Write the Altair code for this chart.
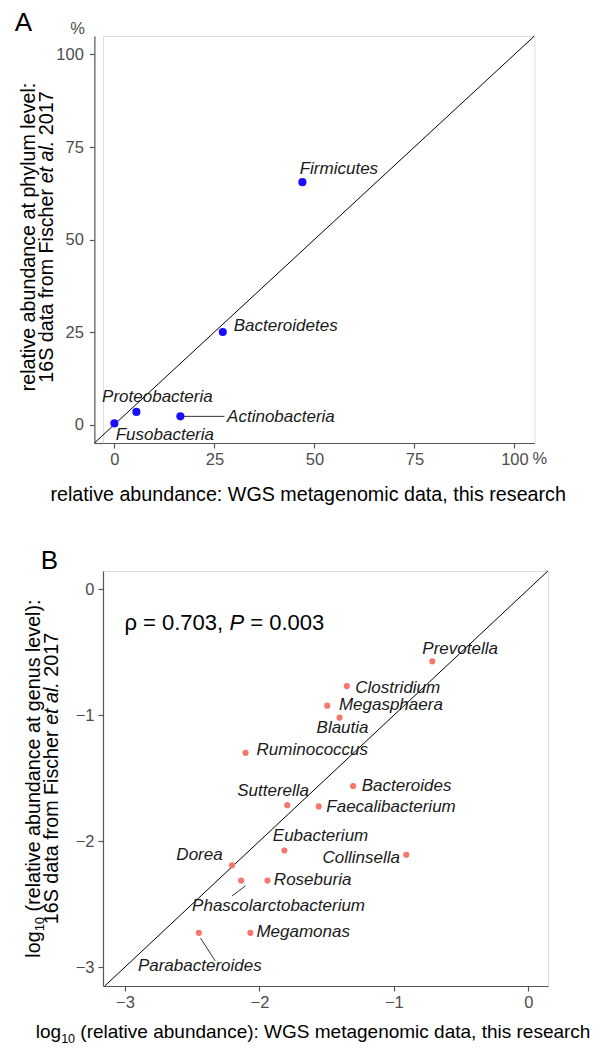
import altair as alt
import pandas as pd

FONT = "Liberation Sans"

# ---------------- data ----------------
# Panel A: phylum level, percent
phyla = ["Firmicutes", "Bacteroidetes", "Proteobacteria", "Actinobacteria", "Fusobacteria"]
wgs_pct = [47.0, 27.1, 5.5, 16.5, 0.0]
s16_pct = [65.5, 25.0, 3.4, 2.2, 0.3]

# Panel B: genus level, log10
genera = ["Prevotella", "Clostridium", "Megasphaera", "Blautia", "Ruminococcus",
          "Bacteroides", "Sutterella", "Faecalibacterium", "Eubacterium", "Collinsella",
          "Dorea", "Phascolarctobacterium", "Roseburia", "Megamonas", "Parabacteroides"]
wgs_log = [-0.714, -1.350, -1.496, -1.404, -2.103,
           -1.303, -1.793, -1.559, -1.814, -0.908,
           -2.204, -2.136, -1.940, -2.067, -2.450]
s16_log = [-0.572, -0.769, -0.924, -1.019, -1.299,
           -1.562, -1.714, -1.724, -2.074, -2.108,
           -2.192, -2.313, -2.313, -2.728, -2.728]

ticks_a = [0, 25, 50, 75, 100]
ticks_b = [-3, -2, -1, 0]

# ---------------- layout / style (pixels) ----------------
AX_SHIFT = 8.6           # panel A's y axis sits this far left of the shared origin
WA, HA = 431.4, 407
XDOM_A, YDOM_A = [-2.85, 105], [-5, 105]
WB, HB = 445, 415
XDOM_B, YDOM_B = [-3.163, 0.146], [-3.15, 0.145]

# label offsets relative to the point: (dx, dy, align)
LAB_A = {
    "Firmicutes": (-2.7, -8.3, "left"),
    "Bacteroidetes": (10.9, -0.7, "left"),
    "Proteobacteria": (-34.3, -10, "left"),
    "Actinobacteria": (46.7, 5.7, "left"),
    "Fusobacteria": (1.3, 17, "left"),
}
LAB_B = {
    "Prevotella": (-10, -7.6, "left"),
    "Clostridium": (8.4, 6.8, "left"),
    "Megasphaera": (11.7, 4.6, "left"),
    "Blautia": (-23, 15.6, "left"),
    "Ruminococcus": (11, 1.7, "left"),
    "Bacteroides": (8.6, 5, "left"),
    "Sutterella": (-50, -9.3, "left"),
    "Faecalibacterium": (7.6, 5.4, "left"),
    "Eubacterium": (-11.6, -9, "left"),
    "Collinsella": (-6.3, 8.3, "right"),
    "Dorea": (-9.3, -5, "right"),
    "Phascolarctobacterium": (-49, 30.7, "left"),
    "Roseburia": (6.4, 4, "left"),
    "Megamonas": (6, 4.6, "left"),
    "Parabacteroides": (-61, 38, "left"),
}
# connector segments in pixel offsets from the point: (x1, y1, x2, y2)
CONN_A = {"Actinobacteria": (0, 0, 44, 0)}
CONN_B = {"Phascolarctobacterium": (4.3, 5.3, -9, 15.3),
          "Parabacteroides": (1.7, 5.3, 16.3, 28)}

AXIS_GRAY = "#555555"
LABEL_GRAY = "#4d4d4d"
TITLE_SIZE = 19.7
TICK_SIZE = 16.5

# Arial / Liberation Sans advance widths (1/1000 em)
CW = {' ': 278, '(': 333, ')': 333, ':': 278, ',': 278, '.': 278, '=': 584,
      'a': 556, 'b': 556, 'c': 500, 'd': 556, 'e': 556, 'f': 278, 'g': 556, 'h': 556,
      'i': 222, 'l': 222, 'm': 833, 'n': 556, 'o': 556, 'p': 556, 'r': 333, 's': 500,
      't': 278, 'u': 556, 'v': 500, 'y': 500, 'F': 611, 'G': 778, 'P': 667, 'S': 667,
      'W': 944, 'ρ': 580}
for d in "0123456789":
    CW[d] = 556


def tw(s, size):
    return sum(CW.get(c, 556) for c in s) / 1000.0 * size


def txt(s, x, y, size, italic=False, angle=0, align="left", color="black"):
    return alt.Chart(alt.Data(values=[{"t": s}])).mark_text(
        align=align, baseline="alphabetic", fontSize=size, font=FONT,
        fontStyle="italic" if italic else "normal", angle=angle, color=color
    ).encode(x=alt.value(x), y=alt.value(y), text="t:N")


def helper(x, y1, y2):
    return alt.Chart(alt.Data(values=[{"h": 0}])).mark_rule(
        color="white", strokeWidth=1
    ).encode(x=alt.value(x), y=alt.value(y1), y2=alt.value(y2))


def axis(vals, pad, offset=0):
    return alt.Axis(title=None, values=vals, grid=False, tickSize=5, labelPadding=pad,
                    labelFontSize=TICK_SIZE, labelFont=FONT, labelColor=LABEL_GRAY,
                    domainColor=AXIS_GRAY, tickColor=AXIS_GRAY, domainWidth=1.2,
                    tickWidth=1.2, labelFlush=False, offset=offset)


def ylabel_segments(parts, x, yc, angle=270):
    """parts: (text, size, italic, shift); laid out bottom-to-top, centred at yc"""
    total = sum(tw(p[0], p[1]) for p in parts)
    y = yc + total / 2
    out = []
    for s, size, it, sh in parts:
        lead = tw(s[:len(s) - len(s.lstrip())], size)
        out.append(txt(s.strip(), x + sh, y - lead, size, italic=it, angle=angle))
        y -= tw(s, size)
    return out


def xlabel_segments(parts, x0, y):
    x = x0
    out = []
    for s, size, it, sh in parts:
        lead = tw(s[:len(s) - len(s.lstrip())], size)
        out.append(txt(s.strip(), x + lead, y + sh, size, italic=it))
        x += tw(s, size)
    return out


def panel(names, xs, ys, xdom, ydom, w, h, ticks, ypad, yoff, color, size, labs, conns):
    df = pd.DataFrame({"name": names, "wgs": xs, "s16": ys})
    xsc = alt.Scale(domain=xdom, nice=False, zero=False)
    ysc = alt.Scale(domain=ydom, nice=False, zero=False)
    X = alt.X("wgs:Q", scale=xsc, axis=axis(ticks, 3))
    Y = alt.Y("s16:Q", scale=ysc, axis=axis(ticks, ypad, yoff))
    ux = (xdom[1] - xdom[0]) / w
    uy = (ydom[1] - ydom[0]) / h
    lo = ydom[0]
    hi = min(xdom[1], ydom[1])
    diag = alt.Chart(pd.DataFrame({"wgs": [lo, hi], "s16": [lo, hi]})).mark_line(
        color="black", strokeWidth=1, clip=False).encode(x=X, y=Y)
    rows = []
    for n, (a, b, c, d) in conns.items():
        i = names.index(n)
        rows.append({"x1": xs[i] + a * ux, "y1": ys[i] - b * uy,
                     "x2": xs[i] + c * ux, "y2": ys[i] - d * uy})
    layers = [diag]
    if rows:
        layers.append(alt.Chart(pd.DataFrame(rows)).mark_rule(
            color="#333333", strokeWidth=1).encode(
            x=alt.X("x1:Q", scale=xsc, axis=axis(ticks, 3)),
            y=alt.Y("y1:Q", scale=ysc, axis=axis(ticks, ypad, yoff)),
            x2="x2:Q", y2="y2:Q"))
    layers.append(alt.Chart(df).mark_circle(color=color, opacity=1, size=size).encode(x=X, y=Y))
    for n, (dx, dy, al) in labs.items():
        layers.append(alt.Chart(df).transform_filter(alt.datum.name == n).mark_text(
            dx=dx, dy=dy, align=al, baseline="alphabetic", fontStyle="italic",
            fontSize=17, font=FONT, color="#1a1a1a").encode(x=X, y=Y, text="name:N"))
    return layers


# ---------------- panel A ----------------
S = AX_SHIFT
layA = [helper(-60, -27, 480)]
# short piece of x axis line between the shifted y axis and the plot edge
layA.append(alt.Chart(alt.Data(values=[{"h": 0}])).mark_rule(
    color=AXIS_GRAY, strokeWidth=1.2).encode(
    x=alt.value(-S + 0.5), x2=alt.value(0.5), y=alt.value(HA + 0.5)))
layA += panel(phyla, wgs_pct, s16_pct, XDOM_A, YDOM_A, WA, HA, ticks_a, 6, S,
              "#1a0dff", 66, LAB_A, CONN_A)
layA += [
    txt("A", -79.7 - S, -5.5, 26),
    txt("%", -16.7 - S, -1.7, TICK_SIZE, align="center", color=LABEL_GRAY),
    txt("%", 438 - S, 427.7, TICK_SIZE, color=LABEL_GRAY),
    txt("relative abundance: WGS metagenomic data, this research", 213.8 - S, HA + 58,
        TITLE_SIZE, align="center"),
    txt("relative abundance at phylum level:", -59.7 - S, 201, TITLE_SIZE, angle=270,
        align="center"),
]
layA += ylabel_segments([("16S data from Fischer ", TITLE_SIZE, False, 0),
                         ("et al.", TITLE_SIZE, True, 0),
                         (" 2017", TITLE_SIZE, False, 0)], -41.3 - S, 201)
chartA = alt.layer(*layA).properties(width=WA, height=HA)

# ---------------- panel B ----------------
layB = [helper(-93.1, -40, 470)]
layB += panel(genera, wgs_log, s16_log, XDOM_B, YDOM_B, WB, HB, ticks_b, 4, 0,
              "#F8766D", 38, LAB_B, CONN_B)
layB += [txt("B", -62.3, -1.7, 26)]
layB += xlabel_segments([("ρ = 0.703, ", 22, False, 0), ("P", 22, True, 0),
                         (" = 0.003", 22, False, 0)], 21.4, 59)
layB += xlabel_segments([("log", 19, False, 0), ("10", 12.5, False, 5),
                         (" (relative abundance): WGS metagenomic data, this research", 19, False, 0)],
                        -67.2, HB + 52)
layB += ylabel_segments([("log", TITLE_SIZE, False, 0), ("10", 13, False, 4.5),
                         (" (relative abundance at genus level):", TITLE_SIZE, False, 0)],
                        -63.1, HB / 2)
layB += ylabel_segments([("16S data from Fischer ", TITLE_SIZE, False, 0),
                         ("et al.", TITLE_SIZE, True, 0),
                         (" 2017", TITLE_SIZE, False, 0)], -44.9, HB / 2)
chartB = alt.layer(*layB).properties(width=WB, height=HB)

chart = alt.vconcat(chartA, chartB, spacing=13).properties(
    padding=0
).configure_view(stroke=None).configure(font=FONT)

chart.save("out.html", embed_options={"renderer": "svg", "actions": False})
